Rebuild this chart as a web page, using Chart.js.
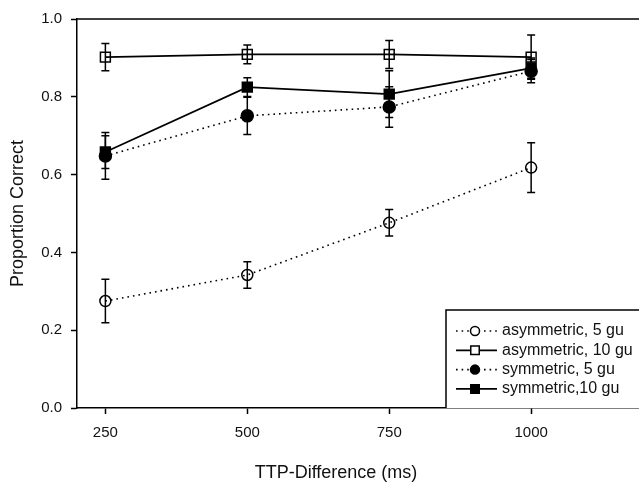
<!DOCTYPE html>
<html>
<head>
<meta charset="utf-8">
<script src="https://cdn.jsdelivr.net/npm/chart.js@4/dist/chart.umd.min.js"></script>
<style>
  body { margin: 0; background: #fff; }
  canvas { display: block; }
</style>
</head>
<body>
<canvas id="chart" width="639" height="482"></canvas>
<script>
// TTP difference levels (ms)
const ttp = [250, 500, 750, 1000];
const xTicks = [250, 500, 750, 1000];

// proportion correct per condition, with error bar half-widths
const asym5 = [0.275, 0.342, 0.476, 0.618];
const asym5Err = [0.056, 0.034, 0.034, 0.064];
const asym10 = [0.902, 0.909, 0.909, 0.902];
const asym10Err = [0.035, 0.024, 0.036, 0.057];
const sym5 = [0.648, 0.751, 0.774, 0.866];
const sym5Err = [0.06, 0.048, 0.052, 0.03];
const sym10 = [0.658, 0.825, 0.807, 0.874];
const sym10Err = [0.042, 0.024, 0.06, 0.026];

const labels = ['asymmetric, 5 gu', 'asymmetric, 10 gu', 'symmetric, 5 gu', 'symmetric,10 gu'];
const xTitle = 'TTP-Difference (ms)';
const yTitle = 'Proportion Correct';

const FONT = "'Liberation Sans', Arial, sans-serif";
const INK = '#111';

function pts(vals) {
    return vals.map((v, i) => ({ x: ttp[i], y: v }));
}

function makeSet(label, vals, errs, style, marker, filled, radius) {
    return {
        label: label,
        data: pts(vals),
        errors: errs,
        borderColor: '#000',
        borderWidth: style === 'dot' ? 1.6 : 1.8,
        borderDash: style === 'dot' ? [1.6, 4] : [],
        pointStyle: marker,
        pointRadius: radius,
        pointBorderWidth: 1.5,
        pointBorderColor: '#000',
        pointBackgroundColor: filled ? '#000' : 'rgba(0,0,0,0)',
        fill: false,
        tension: 0
    };
}

const datasets = [
    makeSet(labels[0], asym5, asym5Err, 'dot', 'circle', false, 5.5),
    makeSet(labels[1], asym10, asym10Err, 'solid', 'rect', false, 7),
    makeSet(labels[2], sym5, sym5Err, 'dot', 'circle', true, 6),
    makeSet(labels[3], sym10, sym10Err, 'solid', 'rect', true, 7)
];

// vertical error bars with caps
const errorBars = {
    id: 'errorBars',
    afterDatasetsDraw(chart) {
        const ctx = chart.ctx;
        const xs = chart.scales.x, ys = chart.scales.y;
        ctx.save();
        ctx.strokeStyle = '#000';
        ctx.lineWidth = 1.5;
        chart.data.datasets.forEach(ds => {
            ds.data.forEach((p, i) => {
                const e = ds.errors[i];
                const x = xs.getPixelForValue(p.x);
                const top = ys.getPixelForValue(p.y + e);
                const bot = ys.getPixelForValue(p.y - e);
                ctx.beginPath();
                ctx.moveTo(x, top); ctx.lineTo(x, bot);
                ctx.moveTo(x - 4, top); ctx.lineTo(x + 4, top);
                ctx.moveTo(x - 4, bot); ctx.lineTo(x + 4, bot);
                ctx.stroke();
            });
        });
        ctx.restore();
    }
};

// top frame line, x title (sits left of centre in the original) and in-plot legend box
const frameAndLegend = {
    id: 'frameAndLegend',
    afterDraw(chart) {
        const ctx = chart.ctx;
        const a = chart.chartArea;
        ctx.save();
        ctx.strokeStyle = '#000';
        ctx.lineWidth = 1.5;
        ctx.beginPath();
        ctx.moveTo(a.left, a.top);
        ctx.lineTo(a.right, a.top);
        ctx.stroke();

        ctx.fillStyle = INK;
        ctx.font = '18px ' + FONT;
        ctx.textAlign = 'center';
        ctx.textBaseline = 'alphabetic';
        ctx.fillText(xTitle, 336, 478);

        // legend box
        const bx = 446, by = 310;
        ctx.fillStyle = '#fff';
        ctx.fillRect(bx, by, a.right - bx + 2, a.bottom - by);
        ctx.beginPath();
        ctx.moveTo(bx, a.bottom);
        ctx.lineTo(bx, by);
        ctx.lineTo(a.right + 2, by);
        ctx.stroke();

        ctx.font = '16px ' + FONT;
        ctx.textAlign = 'left';
        ctx.textBaseline = 'middle';
        ctx.fillStyle = INK;
        chart.data.datasets.forEach((ds, i) => {
            const y = 331 + i * 19.3;
            ctx.save();
            ctx.lineWidth = ds.borderWidth;
            ctx.setLineDash(ds.borderDash);
            ctx.beginPath();
            ctx.moveTo(456, y);
            ctx.lineTo(497, y);
            ctx.stroke();
            ctx.restore();
            ctx.save();
            ctx.lineWidth = 1.5;
            ctx.fillStyle = ds.pointBackgroundColor === 'rgba(0,0,0,0)' ? '#fff' : '#000';
            ctx.strokeStyle = '#000';
            Chart.helpers.drawPoint(ctx, {
                pointStyle: ds.pointStyle,
                radius: ds.pointStyle === 'rect' ? 6 : 4.5,
                borderWidth: 1.5
            }, 475, y);
            ctx.restore();
            ctx.fillText(ds.label, 502, y);
        });
        ctx.restore();
    }
};

new Chart(document.getElementById('chart'), {
    type: 'line',
    data: { datasets: datasets },
    plugins: [errorBars, frameAndLegend],
    options: {
        responsive: false,
        animation: false,
        layout: { autoPadding: false, padding: { top: 19, right: 0, left: 0, bottom: 0 } },
        plugins: {
            legend: { display: false },
            tooltip: { enabled: false }
        },
        scales: {
            x: {
                type: 'linear',
                min: 200,
                max: 1190,
                afterBuildTicks: axis => { axis.ticks = xTicks.map(v => ({ value: v })); },
                afterFit: axis => { axis.height = 74; },
                grid: { display: true, drawOnChartArea: false, drawTicks: true, tickLength: 6, color: '#000', tickWidth: 1.5 },
                border: { display: true, color: '#000', width: 1.5 },
                ticks: { color: INK, font: { family: FONT, size: 15 }, padding: 10, maxRotation: 0, callback: v => String(v) },
                title: { display: false }
            },
            y: {
                min: 0,
                max: 1,
                afterFit: axis => { axis.width = 77; },
                grid: { display: true, drawOnChartArea: false, drawTicks: true, tickLength: 6, color: '#000', tickWidth: 1.5 },
                border: { display: true, color: '#000', width: 1.5 },
                ticks: { stepSize: 0.2, color: INK, font: { family: FONT, size: 15 }, padding: 9, callback: v => v.toFixed(1) },
                title: { display: true, text: yTitle, color: INK, font: { family: FONT, size: 18 }, padding: { top: 7, bottom: 0 } }
            }
        }
    }
});
</script>
</body>
</html>
